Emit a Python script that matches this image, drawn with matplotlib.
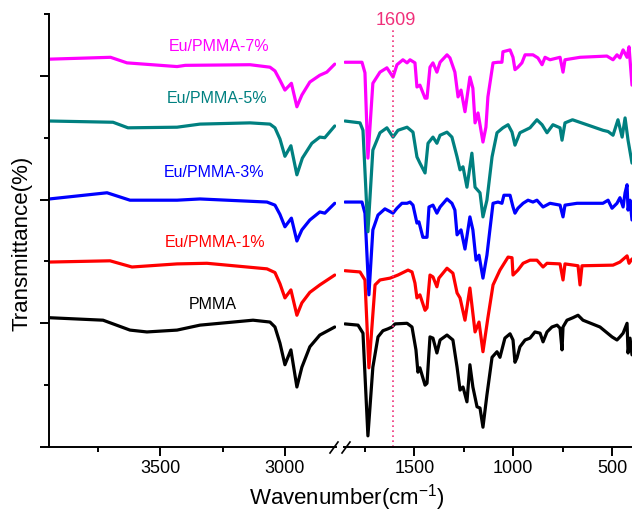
import matplotlib
matplotlib.use("Agg")
import matplotlib.pyplot as plt
from matplotlib.ticker import MultipleLocator
from matplotlib.lines import Line2D

plt.rcParams['font.family'] = ['Liberation Sans', 'DejaVu Sans']
plt.rcParams['mathtext.fontset'] = 'custom'
plt.rcParams['mathtext.rm'] = 'Liberation Sans'

# --- FTIR spectra, stacked (transmittance + offset) ---
# high wavenumber region (3950-2800 cm-1)
pmma_hi_wn = [3945, 3730, 3622, 3554, 3433, 3341, 3128, 3060, 3040, 3020, 3000, 2976, 2952, 2932,
              2900, 2860, 2800]
pmma_hi_t = [20.9, 20.5, 18.9, 18.6, 18.9, 19.7, 20.5, 20.2, 19.4, 16.8, 13.3, 15.7, 9.7, 12.9,
             16.2, 18.1, 19.4]
eu1_hi_wn = [3945, 3702, 3614, 3433, 3313, 3072, 3040, 3020, 3000, 2976, 2952, 2932, 2900, 2860,
             2800]
eu1_hi_t = [29.9, 30.1, 29.1, 29.6, 29.7, 28.8, 28.2, 26.4, 24.1, 25.4, 21.3, 23.3, 25.0, 26.2,
            27.8]
eu3_hi_wn = [3945, 3714, 3622, 3433, 3341, 3072, 3040, 3020, 3000, 2974, 2952, 2932, 2900, 2860,
             2840, 2800]
eu3_hi_t = [40.1, 41.1, 39.9, 39.9, 40.1, 39.6, 39.1, 37.6, 35.6, 37.0, 33.3, 35.1, 36.7, 38.0,
            37.8, 39.4]
eu5_hi_wn = [3945, 3690, 3630, 3433, 3341, 3140, 3060, 3040, 3020, 3000, 2976, 2952, 2930, 2892,
             2860, 2840, 2800]
eu5_hi_t = [52.7, 52.5, 51.6, 51.7, 52.2, 52.4, 52.2, 51.6, 49.8, 47.0, 48.7, 44.0, 46.7, 49.1,
            50.1, 50.0, 51.9]
eu7_hi_wn = [3945, 3700, 3634, 3433, 3400, 3140, 3060, 3040, 3020, 3000, 2974, 2952, 2932, 2900,
             2860, 2832, 2800]
eu7_hi_t = [62.7, 63.0, 62.1, 61.5, 61.7, 61.8, 61.4, 60.8, 59.3, 57.7, 58.8, 55.0, 56.9, 59.0,
            60.1, 60.6, 61.9]

# fingerprint region (1850-400 cm-1)
pmma_lo_wn = [1851, 1785, 1760, 1735, 1710, 1684, 1659, 1634, 1613, 1598, 1537, 1512, 1492, 1482,
              1472, 1446, 1436, 1421, 1406, 1386, 1370, 1335, 1305, 1284, 1269, 1254, 1234, 1219,
              1204, 1183, 1168, 1153, 1133, 1107, 1082, 1067, 1042, 1016, 1001, 991, 981, 966, 940,
              915, 890, 864, 849, 829, 804, 778, 763, 753, 748, 728, 698, 672, 647, 561, 500, 475,
              460, 444, 424, 419, 409, 399]
pmma_lo_t = [19.9, 19.7, 18.4, 1.8, 12.9, 17.8, 18.8, 19.1, 19.4, 19.9, 20.0, 19.4, 15.7, 12.1,
             12.8, 10.0, 10.3, 17.8, 17.6, 15.2, 17.3, 18.1, 17.3, 12.9, 9.2, 9.7, 7.3, 13.3,
             9.7, 6.5, 6.3, 3.2, 8.4, 14.5, 15.4, 14.5, 17.6, 18.3, 17.3, 13.7, 14.4, 16.2, 17.3,
             17.6, 18.6, 18.4, 17.0, 18.6, 19.4, 19.7, 19.2, 15.7, 19.4, 20.5, 20.9, 21.3, 20.5,
             19.4, 17.8, 17.3, 17.8, 18.4, 20.0, 15.2, 17.6, 14.9]
eu1_lo_wn = [1851, 1775, 1750, 1730, 1699, 1674, 1623, 1583, 1532, 1512, 1497, 1487, 1472, 1446,
             1436, 1421, 1406, 1386, 1376, 1335, 1305, 1284, 1269, 1244, 1219, 1193, 1173, 1153,
             1128, 1102, 1067, 1026, 1006, 1001, 976, 950, 915, 880, 849, 829, 763, 748, 738, 672,
             662, 652, 495, 460, 424, 414, 399]
eu1_lo_t = [28.5, 28.3, 27.0, 12.8, 26.2, 27.0, 27.3, 27.8, 28.6, 28.3, 26.5, 24.1, 24.6, 22.1,
            22.5, 27.8, 27.5, 25.9, 27.3, 28.9, 28.1, 24.9, 24.1, 20.5, 25.7, 18.6, 20.2, 15.4,
            20.9, 26.2, 28.6, 30.7, 30.6, 27.8, 28.6, 29.7, 30.2, 30.2, 29.1, 29.7, 29.6, 27.0,
            29.6, 29.3, 26.2, 29.3, 29.4, 29.9, 30.9, 29.7, 30.4]
eu3_lo_wn = [1851, 1765, 1750, 1730, 1710, 1684, 1649, 1608, 1588, 1563, 1537, 1522, 1507, 1487,
             1477, 1457, 1436, 1426, 1406, 1386, 1370, 1335, 1310, 1295, 1284, 1264, 1244, 1219,
             1204, 1188, 1173, 1153, 1133, 1118, 1102, 1077, 1057, 1047, 1016, 1001, 991, 976,
             950, 925, 900, 880, 849, 814, 763, 748, 738, 677, 546, 520, 500, 475, 460, 444, 434,
             424, 419, 409, 399]
eu3_lo_t = [39.6, 39.6, 37.8, 24.6, 35.1, 37.5, 38.5, 37.8, 38.6, 39.4, 39.4, 39.6, 39.1, 36.2,
            36.4, 33.9, 33.9, 38.8, 39.1, 37.8, 38.8, 40.1, 39.4, 38.3, 34.3, 35.1, 32.0, 37.2,
            35.1, 30.2, 31.0, 27.3, 31.0, 35.1, 39.4, 39.6, 39.4, 40.7, 40.7, 38.8, 37.8, 38.6,
            39.4, 39.9, 39.6, 39.9, 38.8, 39.4, 39.1, 37.2, 39.1, 39.4, 39.4, 39.9, 38.6, 39.4,
            40.3, 38.8, 41.1, 42.4, 38.3, 39.9, 36.7]
eu5_lo_wn = [1851, 1775, 1760, 1735, 1710, 1674, 1639, 1608, 1583, 1537, 1507, 1487, 1472, 1446,
             1431, 1406, 1386, 1370, 1335, 1310, 1284, 1269, 1254, 1234, 1209, 1193, 1168, 1153,
             1133, 1107, 1082, 1052, 1026, 1006, 991, 966, 915, 880, 854, 829, 799, 763, 753, 738,
             700, 600, 546, 520, 495, 470, 449, 434, 419, 399]
eu5_lo_t = [52.7, 52.4, 51.2, 34.8, 48.0, 50.8, 51.6, 50.1, 51.2, 51.7, 50.9, 46.9, 45.9, 44.3,
            49.1, 50.1, 49.1, 50.4, 50.9, 50.1, 46.9, 44.8, 45.3, 42.0, 47.5, 42.0, 41.1, 37.2,
            39.9, 46.9, 50.8, 51.6, 52.1, 50.9, 48.8, 50.8, 51.6, 52.9, 52.1, 50.8, 52.1, 51.6,
            49.6, 52.4, 52.9, 51.8, 51.2, 51.0, 50.4, 52.9, 50.1, 53.2, 49.6, 45.9]
eu7_lo_wn = [1851, 1765, 1750, 1735, 1710, 1674, 1639, 1608, 1588, 1558, 1537, 1522, 1497, 1487,
             1472, 1446, 1436, 1421, 1406, 1386, 1370, 1335, 1320, 1295, 1279, 1264, 1244, 1219,
             1204, 1193, 1178, 1153, 1138, 1128, 1102, 1077, 1057, 1052, 1016, 1001, 991, 976,
             956, 940, 900, 875, 854, 839, 814, 763, 748, 738, 662, 526, 495, 475, 460, 444, 424,
             414, 399]
eu7_lo_t = [62.2, 62.2, 60.5, 46.7, 58.8, 60.6, 61.3, 59.8, 61.8, 62.6, 62.1, 62.6, 62.1, 58.2,
            58.5, 56.4, 56.4, 61.4, 62.1, 60.6, 62.2, 63.4, 62.9, 60.6, 56.6, 57.7, 54.2, 59.8,
            58.0, 52.4, 54.0, 49.3, 51.7, 56.6, 62.1, 62.2, 62.2, 63.9, 64.2, 63.0, 61.0, 61.4,
            62.1, 63.4, 63.4, 62.9, 61.8, 63.0, 62.6, 63.0, 60.6, 62.6, 63.0, 63.2, 62.6, 63.4,
            62.9, 64.2, 63.0, 64.7, 58.5]

names = ['PMMA', 'Eu/PMMA-1%', 'Eu/PMMA-3%', 'Eu/PMMA-5%', 'Eu/PMMA-7%']
colors = ['black', '#FF0000', '#0000FF', '#008080', '#FF00FF']
hi_wn = [pmma_hi_wn, eu1_hi_wn, eu3_hi_wn, eu5_hi_wn, eu7_hi_wn]
hi_t = [pmma_hi_t, eu1_hi_t, eu3_hi_t, eu5_hi_t, eu7_hi_t]
lo_wn = [pmma_lo_wn, eu1_lo_wn, eu3_lo_wn, eu5_lo_wn, eu7_lo_wn]
lo_t = [pmma_lo_t, eu1_lo_t, eu3_lo_t, eu5_lo_t, eu7_lo_t]
label_pos = [(3289, 23.1), (3281, 33.0), (3285, 44.3), (3273, 56.4), (3265, 64.8)]

W, H = 632, 513
fig = plt.figure(figsize=(W / 100, H / 100), dpi=100)
bottom, height = 66 / H, 433 / H
ax1 = fig.add_axes([49 / W, bottom, (336 - 49) / W, height])
ax2 = fig.add_axes([344 / W, bottom, (W - 344) / W, height])

for i in range(len(names)):
    ax1.plot(hi_wn[i], hi_t[i], color=colors[i], lw=2.3,
             solid_joinstyle='round', solid_capstyle='round')
    ax2.plot(lo_wn[i], lo_t[i], color=colors[i], lw=2.3,
             solid_joinstyle='round', solid_capstyle='round')
    ax1.text(label_pos[i][0], label_pos[i][1], names[i], color=colors[i],
             fontsize=11.5, ha='center', va='center')

ax1.set_xlim(3947, 2795)
ax2.set_xlim(1856, 399)
for ax in (ax1, ax2):
    ax.set_ylim(0, 70)
    ax.spines['top'].set_visible(False)
    ax.spines['right'].set_visible(False)
    ax.spines['bottom'].set_linewidth(1.4)
    ax.xaxis.set_major_locator(MultipleLocator(500))
    ax.xaxis.set_minor_locator(MultipleLocator(250))
    ax.tick_params(axis='both', which='major', direction='out', length=6.5, width=1.4,
                   labelsize=13, pad=3)
    ax.tick_params(axis='both', which='minor', direction='out', length=3.5, width=1.4)
    ax.patch.set_visible(False)

ax1.spines['left'].set_linewidth(1.4)
ax1.yaxis.set_major_locator(MultipleLocator(20))
ax1.yaxis.set_minor_locator(MultipleLocator(10))
ax1.tick_params(axis='y', labelleft=False)
ax2.spines['left'].set_visible(False)
ax2.yaxis.set_visible(False)

# 1609 marker
pink = '#F0307A'
ax2.plot([1609, 1609], [0, 67.7], color=pink, lw=1.2, ls=(0, (1, 2)))
ax2.text(1592, 69.0, '1609', color=pink, fontsize=13, ha='center', va='center', clip_on=False)

# axis break marks
for x0 in (330, 342):
    fig.add_artist(Line2D([x0 / W, (x0 + 8) / W], [1 - 453 / H, 1 - 442 / H],
                          color='black', lw=1.2))

fig.text(347 / W, 1 - 498 / H, 'Wavenumber(cm$^{-1}$)', fontsize=16, ha='center', va='center')
fig.text(22 / W, 1 - 243 / H, 'Transmittance(%)', fontsize=16, rotation=90,
         ha='center', va='center')

fig.savefig('out.png', dpi=100)
